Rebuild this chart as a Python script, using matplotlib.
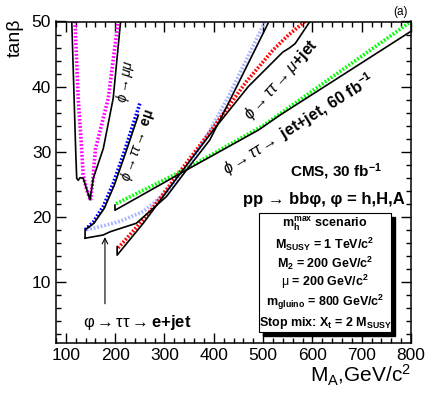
import matplotlib
matplotlib.use("Agg")
import matplotlib.pyplot as plt
from matplotlib.patches import Rectangle

plt.rcParams['font.family'] = ['Liberation Sans', 'DejaVu Sans']
plt.rcParams['mathtext.fontset'] = 'custom'
plt.rcParams['mathtext.rm'] = 'Liberation Sans'
plt.rcParams['mathtext.it'] = 'Liberation Sans:italic'
plt.rcParams['mathtext.bf'] = 'Liberation Sans:bold'

# phi -> mu mu
mumu_dot_x = [118.5, 125, 132, 135, 142, 150, 155, 160, 186, 206]
mumu_dot_y = [50, 38.2, 30.5, 26.5, 24.2, 22.5, 25.9, 30.4, 38.2, 50]
mumu_x = [112, 116, 120, 122, 125, 128.6, 135.3, 149, 155.6, 176, 196, 211]
mumu_y = [50, 40, 30, 25.9, 25.6, 26.0, 25.9, 22.6, 25.9, 30.5, 38.2, 50]

# phi -> tau tau -> e mu
emu_dot_x = [139, 156, 176, 196, 220, 250]
emu_dot_y = [18.0, 19.2, 21.6, 25.1, 30.3, 37.4]
emu_x = [139, 139, 157, 178, 198, 222, 247]
emu_y = [16.7, 18.0, 19.0, 21.3, 24.8, 30.0, 35.6]

# phi -> tau tau -> e+jet
ejet_dot_x = [142, 176, 210, 257, 300, 341, 380, 430, 504]
ejet_dot_y = [18.0, 18.6, 19.3, 20.8, 23.5, 27.2, 31.6, 38.5, 50]
ejet_x = [139, 176, 190, 243, 304, 345, 392, 440, 510]
ejet_y = [16.7, 17.2, 17.7, 19.0, 23.1, 27.2, 31.8, 39.0, 49.7]

# phi -> tau tau -> mu+jet
mujet_dot_x = [206, 240, 270.5, 331, 395, 466.5, 520, 551, 585]
mujet_dot_y = [15.2, 18.1, 20.8, 26.9, 33.3, 40.8, 45.6, 47.9, 50]
mujet_x = [204, 204, 257, 324.6, 399, 470, 540, 553, 565, 595]
mujet_y = [15.4, 14.1, 19.0, 25.9, 33.3, 40.0, 45.3, 45.9, 46.6, 50]

# phi -> tau tau -> jet+jet, 60 fb-1
jj_dot_x = [202, 345, 500, 800]
jj_dot_y = [22.0, 27.4, 34.0, 50]
jj_x = [199.6, 199.6, 345, 490, 534, 800]
jj_y = [21.8, 21.0, 27.2, 33.3, 35.6, 48.5]

fig = plt.figure(figsize=(4.33, 3.96), dpi=100)
ax = fig.add_axes([56/433, 1-343/396, 355/433, 321.5/396])

dot = (0, (0.5, 0.5))
dlw = 2.6
ax.plot(mumu_dot_x, mumu_dot_y, color='#ff00ff', lw=dlw, ls=dot)
ax.plot(emu_dot_x, emu_dot_y, color='#0000ff', lw=dlw, ls=dot)
ax.plot(ejet_dot_x, ejet_dot_y, color='#a8b4ff', lw=dlw, ls=dot)
ax.plot(mujet_dot_x, mujet_dot_y, color='#ff0000', lw=dlw, ls=dot)
ax.plot(jj_dot_x, jj_dot_y, color='#00ff00', lw=dlw, ls=dot)

for xs, ys in [(mumu_x, mumu_y), (emu_x, emu_y), (ejet_x, ejet_y),
               (mujet_x, mujet_y), (jj_x, jj_y)]:
    ax.plot(xs, ys, color='black', lw=1.2)

ax.set_xlim(80, 800)
ax.set_ylim(0.6, 50)
ax.set_xticks(range(100, 801, 100))
ax.set_xticks(range(80, 801, 20), minor=True)
ax.set_yticks(range(10, 51, 10))
ax.set_yticks(range(2, 51, 2), minor=True)
ax.tick_params(which='both', direction='in', top=True, right=True, labelsize=12.5, width=1)
ax.tick_params(which='major', length=7)
ax.tick_params(which='minor', length=3.5)
for s in ax.spines.values():
    s.set_linewidth(1.1)

# curve labels
ax.text(221, 40.8, r'$\phi \rightarrow \mu\mu$', rotation=81, fontsize=10,
        ha='center', va='center', rotation_mode='anchor')
ax.text(246, 31.0, r'$\phi \rightarrow \tau\tau \rightarrow$ eμ', rotation=71, fontsize=10,
        fontweight='bold', ha='center', va='center', rotation_mode='anchor')
ax.text(537, 41.0, r'$\phi \rightarrow \tau\tau \rightarrow \mu$+jet', rotation=48, fontsize=11.5,
        fontweight='bold', ha='center', va='center', rotation_mode='anchor')
ax.text(573, 34.2, r'$\phi \rightarrow \tau\tau \rightarrow$ jet+jet, 60 fb$^\mathbf{-1}$', rotation=32,
        fontsize=11.5, fontweight='bold', ha='center', va='center', rotation_mode='anchor')
ax.text(245, 3.7, r'$\mathrm{\varphi} \rightarrow \mathrm{\tau\tau} \rightarrow$e+jet', fontsize=12,
        fontweight='bold', ha='center', va='center')
ax.annotate('', xy=(179.3, 17.3), xytext=(179.3, 6.2),
            arrowprops=dict(arrowstyle='->', lw=0.8, color='black'))

ax.text(648, 26.9, r'CMS, 30 fb$^\mathbf{-1}$', fontsize=11, fontweight='bold', ha='center', va='center')
ax.text(623, 22.7, 'pp → bbφ, φ = h,H,A', fontsize=12, fontweight='bold', ha='center', va='center')

# parameter box
bx0, bx1 = (259-56)/355, (391-56)/355
by0, by1 = (343-332)/321.5, (343-213)/321.5
ax.add_patch(Rectangle((bx0+0.012, by0-0.013), bx1-bx0, by1-by0, transform=ax.transAxes,
                       facecolor='black', edgecolor='black', zorder=5))
ax.add_patch(Rectangle((bx0, by0), bx1-bx0, by1-by0, transform=ax.transAxes,
                       facecolor='white', edgecolor='black', lw=0.8, zorder=6))
box_lines = [r'm$_\mathbf{h}^\mathbf{max}$ scenario',
             r'M$_\mathbf{SUSY}$ = 1 TeV/c$^\mathbf{2}$',
             r'M$_\mathbf{2}$ = 200 GeV/c$^\mathbf{2}$',
             r'$\mathrm{\mu}$ = 200 GeV/c$^\mathbf{2}$',
             r'm$_\mathbf{gluino}$ = 800 GeV/c$^\mathbf{2}$',
             r'Stop mix: X$_\mathbf{t}$ = 2 M$_\mathbf{SUSY}$']
box_py = [224, 244, 263, 282, 302, 323]
bxc = (bx0 + bx1) / 2
for txt, py in zip(box_lines, box_py):
    ax.text(bxc, (343-py)/321.5, txt, transform=ax.transAxes, fontsize=9, fontweight='bold',
            ha='center', va='center', zorder=7)

fig.text(15/433, 1-38/396, 'tanβ', rotation=90, fontsize=14, ha='center', va='center')
fig.text(411/433, 1-375/396, r'M$_\mathrm{A}$,GeV/c$^\mathrm{2}$', fontsize=15, ha='right', va='center')
fig.text(400/433, 1-12/396, '(a)', fontsize=8.5, ha='center', va='center')

fig.savefig('out.png', dpi=100)
